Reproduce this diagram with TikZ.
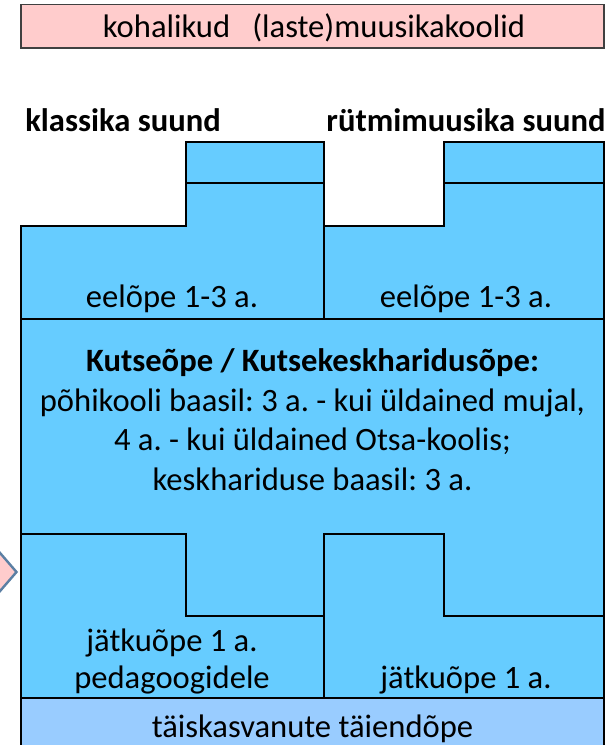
\documentclass[tikz,border=0pt]{standalone}
\usepackage{fontspec}
\setmainfont{Carlito}
\frenchspacing
\definecolor{sinine}{HTML}{66CCFF}
\definecolor{helesinine}{HTML}{99CCFF}
\definecolor{roosa}{HTML}{FFCCCC}
\definecolor{hallsinine}{HTML}{5B7FA3}
\definecolor{raam}{HTML}{404040}

\begin{document}
\begin{tikzpicture}[x=0.5pt, y=-0.5pt, line width=1pt]
    \tikzset{
        tekst/.style={font=\fontsize{16.3}{19.7}\selectfont, align=center, inner sep=0pt, anchor=base},
        pealkiri/.style={tekst, font=\fontsize{16.3}{19.7}\selectfont\bfseries},
        plokk/.style={fill=sinine, draw=black}
    }
    \useasboundingbox (0,0) rectangle (615,745);
    \clip (0,0) rectangle (615,745);

    % ylemine kast
    \draw[fill=roosa, draw=raam, line width=0.8pt] (21,4.5) rectangle (604,48);
    \node[tekst] (koolid) at (314,37) {kohalikud\ \ \ (laste)muusikakoolid};

    % suunad
    \node[pealkiri] (klassika) at (123,131) {klassika suund};
    \node[pealkiri] (rytm) at (466,131) {rütmimuusika suund};

    % sinine plokk
    \draw[plokk] (21,226) -| (186,142) -| (324,226) -| (444,142) -| (604,760) -| cycle;
    \draw (186,183) -- (324,183);
    \draw (444,183) -- (604,183);
    \draw (324,142) -- (324,319);
    \draw (21,319) -- (604,319);
    \draw (21,534) -| (186,616) -- (324,616);
    \draw (324,698) |- (444,534) |- (604,616);
    \draw[fill=helesinine] (21,698) rectangle (604,760);

    % noole ots vasakul
    \draw[fill=roosa, draw=hallsinine, line width=1.2pt] (-12,539) -- (16.5,572) -- (-12,605) -- cycle;

    \node[tekst] (eel1) at (172,307) {eelõpe 1-3 a.};
    \node[tekst] (eel2) at (466,307) {eelõpe 1-3 a.};
    \node[tekst] (kutse) at (312.5,490) {\textbf{Kutseõpe / Kutsekeskharidusõpe:}\\
        põhikooli baasil: 3 a. - kui üldained mujal,\\
        4 a. - kui üldained Otsa-koolis;\\
        keskhariduse baasil: 3 a.};
    \node[tekst, font=\fontsize{16.3}{18.5}\selectfont] (jatk1) at (172,688) {jätkuõpe 1 a.\\pedagoogidele};
    \node[tekst] (jatk2) at (466,688) {jätkuõpe 1 a.};
    \node[tekst] (taiend) at (312.5,737) {täiskasvanute täiendõpe};
\end{tikzpicture}
\end{document}
